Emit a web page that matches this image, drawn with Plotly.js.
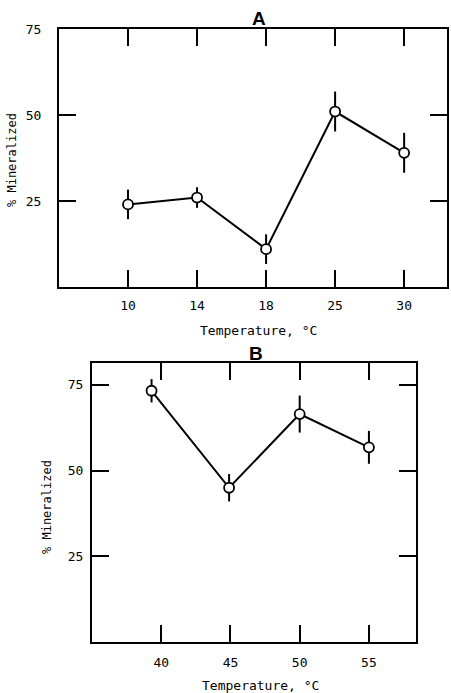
<!DOCTYPE html>
<html><head><meta charset="utf-8">
<script src="https://cdn.plot.ly/plotly-3.0.1.min.js"></script>
<style>html,body{margin:0;padding:0;background:#fff}#c{width:451px;height:693px}</style>
</head><body><div id="c"></div>
<script>
// Panel A
const tempA = ['10','14','18','25','30'];
const minA = [24, 26, 11, 51, 39];
const errA = [4.3, 3, 4.3, 5.8, 5.8];
// Panel B
const tempB = [39.3, 44.9, 50, 55];
const minB = [73.3, 45, 66.5, 56.8];
const errB = [3.4, 4, 5.4, 4.8];
const yTicks = [25, 50, 75];
const xTicksB = [40, 45, 50, 55];

const FONT = 'DejaVu Sans Mono, monospace';
const lineStyle = {color: '#000', width: 2};
const markerStyle = {symbol: 'circle', size: 10, color: '#fff', line: {color: '#000', width: 1.8}};

const traces = [
  {x: tempA, y: minA, type: 'scatter', mode: 'lines+markers', xaxis: 'x', yaxis: 'y',
   line: lineStyle, marker: markerStyle,
   error_y: {type: 'data', array: errA, visible: true, color: '#000', thickness: 2, width: 0}},
  {x: tempB, y: minB, type: 'scatter', mode: 'lines+markers', xaxis: 'x2', yaxis: 'y2',
   line: lineStyle, marker: markerStyle,
   error_y: {type: 'data', array: errB, visible: true, color: '#000', thickness: 2, width: 0}}
];

const axBase = {showline: true, linecolor: '#000', linewidth: 2, mirror: 'ticks',
  ticks: 'inside', ticklen: 17, tickwidth: 2, tickcolor: '#000', showgrid: false, zeroline: false,
  tickfont: {family: FONT, size: 13, color: '#000'}, fixedrange: true};

const layout = {
  width: 451, height: 693, margin: {l: 0, r: 0, t: 0, b: 0},
  paper_bgcolor: '#fff', plot_bgcolor: '#fff', showlegend: false,
  xaxis: Object.assign({}, axBase, {domain: [0.1308, 0.991], anchor: 'y', type: 'category',
    range: [-1, 4.62], ticklabelstandoff: 5}),
  yaxis: Object.assign({}, axBase, {domain: [0.5859, 0.9582], anchor: 'x', range: [0, 75],
    tickvals: yTicks, ticktext: yTicks.map(String), ticklabelstandoff: 13}),
  xaxis2: Object.assign({}, axBase, {domain: [0.204, 0.9224], anchor: 'y2', range: [35, 58.4],
    tickvals: xTicksB, ticktext: xTicksB.map(String), ticklabelstandoff: 7}),
  yaxis2: Object.assign({}, axBase, {domain: [0.0736, 0.4762], anchor: 'x2', range: [0, 81.4],
    tickvals: yTicks, ticktext: yTicks.map(String), ticklabelstandoff: 4}),
  annotations: [
    {text: '<b>A</b>', xref: 'paper', yref: 'paper', x: 259/451, y: 1 - 18/693, showarrow: false,
     xanchor: 'center', yanchor: 'middle',
     font: {family: 'Liberation Sans, Arial, sans-serif', size: 19, color: '#000'}},
    {text: '<b>B</b>', xref: 'paper', yref: 'paper', x: 256/451, y: 1 - 353/693, showarrow: false,
     xanchor: 'center', yanchor: 'middle',
     font: {family: 'Liberation Sans, Arial, sans-serif', size: 19, color: '#000'}},
    {text: 'Temperature, °C', xref: 'paper', yref: 'paper', x: 258/451, y: 1 - 330/693, showarrow: false,
     xanchor: 'center', yanchor: 'middle', font: {family: FONT, size: 13, color: '#000'}},
    {text: 'Temperature, °C', xref: 'paper', yref: 'paper', x: 260/451, y: 1 - 685/693, showarrow: false,
     xanchor: 'center', yanchor: 'middle', font: {family: FONT, size: 13, color: '#000'}},
    {text: '% Mineralized', xref: 'paper', yref: 'paper', x: 12/451, y: 1 - 160/693, showarrow: false,
     xanchor: 'center', yanchor: 'middle',
     textangle: -90, font: {family: FONT, size: 12, color: '#000'}},
    {text: '% Mineralized', xref: 'paper', yref: 'paper', x: 47/451, y: 1 - 507/693, showarrow: false,
     xanchor: 'center', yanchor: 'middle',
     textangle: -90, font: {family: FONT, size: 12, color: '#000'}}
  ]
};

Plotly.newPlot('c', traces, layout, {displayModeBar: false, staticPlot: true});
</script>
</body></html>
